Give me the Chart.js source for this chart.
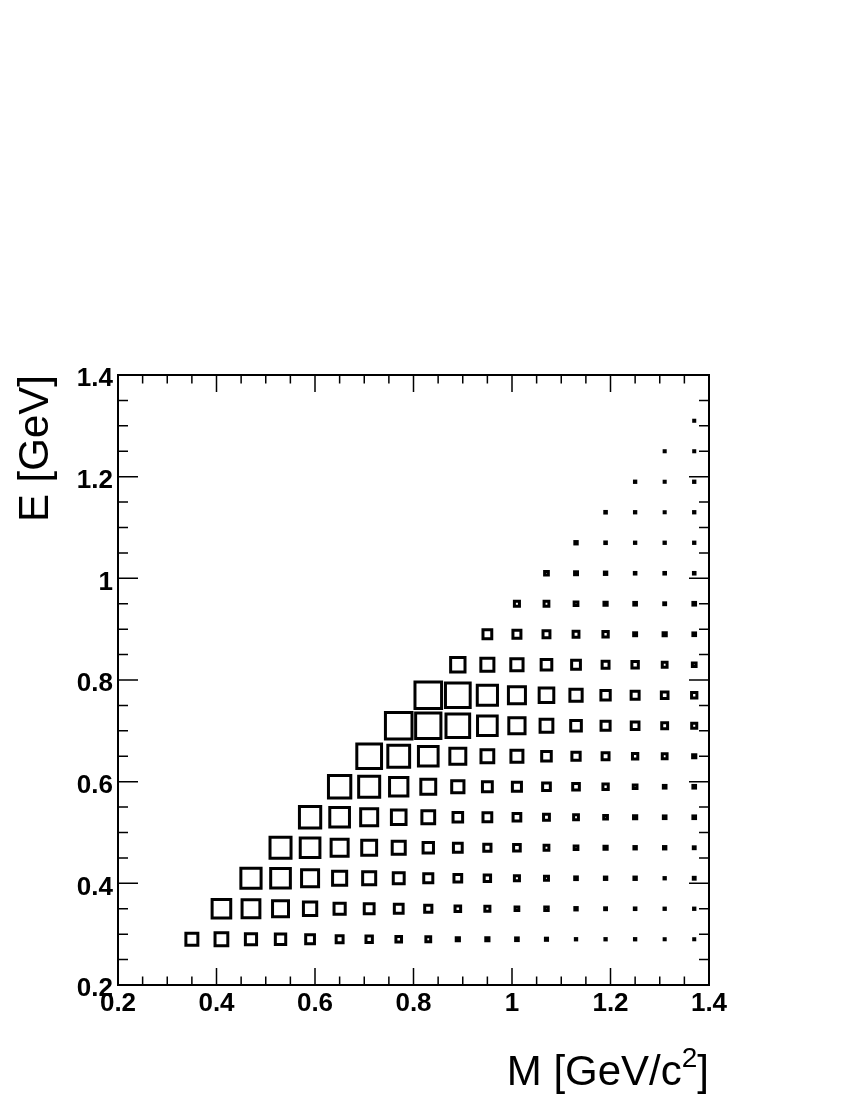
<!DOCTYPE html>
<html>
<head>
<meta charset="utf-8">
<title>E vs M box plot</title>
<script src="https://cdn.jsdelivr.net/npm/chart.js@4.4.0/dist/chart.umd.min.js"></script>
<style>
  html, body { margin: 0; padding: 0; background: #ffffff; overflow: hidden; }
  canvas { display: block; }
</style>
</head>
<body>
<canvas id="chart" width="850" height="1100"></canvas>
<script>
// ---------------------------------------------------------------------------
// Data — bin centres and relative box content (100 = largest box)
// ---------------------------------------------------------------------------

const massBins   = [0.35, 0.41, 0.47, 0.53, 0.59, 0.65, 0.71, 0.77, 0.83,
                    0.89, 0.95, 1.01, 1.07, 1.13, 1.19, 1.25, 1.31, 1.37];
const energyBins = [0.29, 0.35, 0.41, 0.47, 0.53, 0.59, 0.65, 0.71, 0.77,
                    0.83, 0.89, 0.95, 1.01, 1.07, 1.13, 1.19, 1.25, 1.31];

// Row j (energy bin j) starts at mass bin j and runs to the last mass bin.
const content = [
  [45, 48, 42, 39, 33, 26, 24, 21, 18, 12, 12, 10, 8, 5, 5, 5, 4, 4],
  [70, 67, 60, 50, 42, 37, 33, 27, 21, 19, 14, 13, 9, 7, 6, 5, 5],
  [76, 74, 64, 53, 49, 41, 34, 29, 24, 19, 15, 10, 9, 9, 5, 7],
  [79, 74, 64, 56, 49, 39, 33, 27, 25, 18, 14, 12, 9, 9, 7],
  [80, 74, 64, 55, 48, 36, 33, 29, 22, 18, 14, 12, 10, 10],
  [84, 79, 69, 56, 46, 37, 34, 29, 25, 20, 14, 10, 10],
  [93, 82, 74, 60, 48, 45, 36, 31, 26, 20, 18, 12],
  [100, 95, 89, 74, 61, 48, 40, 34, 29, 22, 19],
  [100, 93, 76, 64, 55, 46, 35, 30, 25, 20],
  [54, 49, 46, 40, 33, 26, 24, 18, 14],
  [33, 30, 26, 22, 20, 11, 12, 10],
  [19, 18, 14, 12, 10, 7, 10],
  [14, 11, 9, 6, 6, 6],
  [9, 6, 5, 5, 5],
  [6, 5, 4, 5],
  [5, 4, 5],
  [4, 4],
  [4],
];

const axisTicks = [0.2, 0.4, 0.6, 0.8, 1, 1.2, 1.4];
const xTitle = ['M [GeV/c', '2', ']'];   // middle part is a superscript
const yTitle = 'E [GeV]';

// ---------------------------------------------------------------------------
// Build points
// ---------------------------------------------------------------------------

const points = [];
content.forEach((row, j) => {
  row.forEach((v, k) => {
    points.push({ x: massBins[j + k], y: energyBins[j], v });
  });
});

const BIN_W = 0.06;
const FONT = '"Liberation Sans", Arial, Helvetica, sans-serif';

// Box side in pixels, proportional to content
function boxRadius(ctx) {
  const xs = ctx.chart.scales.x;
  if (!xs || !ctx.raw) return 1;
  const binPx = Math.abs(xs.getPixelForValue(BIN_W) - xs.getPixelForValue(0));
  const side = ctx.raw.v / 100 * 0.9 * binPx;
  return side / Math.SQRT2;
}

// ---------------------------------------------------------------------------
// Frame with inward major/minor ticks on all four sides (ROOT style),
// plus the x-axis title with a real superscript
// ---------------------------------------------------------------------------

const frameTicks = {
  id: 'frameTicks',
  afterDraw(chart) {
    const { ctx, chartArea: a, scales: { x, y } } = chart;
    ctx.save();
    ctx.strokeStyle = '#000';
    ctx.lineWidth = 1.5;
    ctx.beginPath();
    for (let k = 0; k <= 24; k++) {
      const v = 0.2 + k * 0.05;
      const major = k % 4 === 0;
      const px = x.getPixelForValue(v);
      const py = y.getPixelForValue(v);
      const lx = major ? 17 : 8.5;
      const ly = major ? 20 : 10;
      ctx.moveTo(px, a.bottom); ctx.lineTo(px, a.bottom - lx);
      ctx.moveTo(px, a.top);    ctx.lineTo(px, a.top + lx);
      ctx.moveTo(a.left, py);   ctx.lineTo(a.left + ly, py);
      ctx.moveTo(a.right, py);  ctx.lineTo(a.right - ly, py);
    }
    ctx.stroke();
    ctx.lineWidth = 2;
    ctx.strokeRect(a.left, a.top, a.right - a.left, a.bottom - a.top);

    // x title, right-aligned to the axis end
    const big = `42px ${FONT}`;
    const small = `28px ${FONT}`;
    const base = chart.height - 15;
    ctx.fillStyle = '#000';
    ctx.textBaseline = 'alphabetic';
    ctx.textAlign = 'left';
    ctx.font = big;
    const w0 = ctx.measureText(xTitle[0]).width;
    const w2 = ctx.measureText(xTitle[2]).width;
    ctx.font = small;
    const w1 = ctx.measureText(xTitle[1]).width;
    let cx = a.right - (w0 + w1 + w2);
    ctx.font = big;
    ctx.fillText(xTitle[0], cx, base);
    cx += w0;
    ctx.font = small;
    ctx.fillText(xTitle[1], cx, base - 18);
    cx += w1;
    ctx.font = big;
    ctx.fillText(xTitle[2], cx, base);
    ctx.restore();
  },
};

// ---------------------------------------------------------------------------
// Chart
// ---------------------------------------------------------------------------

const tickFont = { family: FONT, size: 26, weight: 'bold' };
const titleFont = { family: FONT, size: 42, weight: 'normal' };
const fmt = v => String(Number(v.toFixed(1)));

new Chart(document.getElementById('chart'), {
  type: 'scatter',
  data: {
    datasets: [{
      data: points,
      pointStyle: 'rect',
      pointRadius: boxRadius,
      pointHoverRadius: boxRadius,
      pointBorderWidth: 3,
      pointBorderColor: '#000000',
      pointBackgroundColor: 'rgba(0,0,0,0)',
    }],
  },
  options: {
    responsive: false,
    animation: false,
    devicePixelRatio: 1,
    events: [],
    layout: { padding: { top: 375, right: 141, left: 0, bottom: 0 } },
    plugins: { legend: { display: false }, tooltip: { enabled: false } },
    scales: {
      x: {
        type: 'linear',
        min: 0.2,
        max: 1.4,
        afterFit: s => { s.height = 115; },
        afterBuildTicks: s => { s.ticks = axisTicks.map(value => ({ value })); },
        grid: { display: false, drawTicks: false },
        border: { display: false },
        ticks: { autoSkip: false, maxRotation: 0, color: '#000', font: tickFont, padding: 3, callback: fmt },
        title: { display: false },
      },
      y: {
        type: 'linear',
        min: 0.2,
        max: 1.4,
        afterFit: s => { s.width = 118; },
        afterBuildTicks: s => { s.ticks = axisTicks.map(value => ({ value })); },
        grid: { display: false, drawTicks: false },
        border: { display: false },
        ticks: { autoSkip: false, color: '#000', font: tickFont, padding: 5, labelOffset: 4, callback: fmt },
        title: { display: true, text: yTitle, align: 'end', color: '#000', font: titleFont, padding: { top: 11, bottom: 0 } },
      },
    },
  },
  plugins: [frameTicks],
});
</script>
</body>
</html>
